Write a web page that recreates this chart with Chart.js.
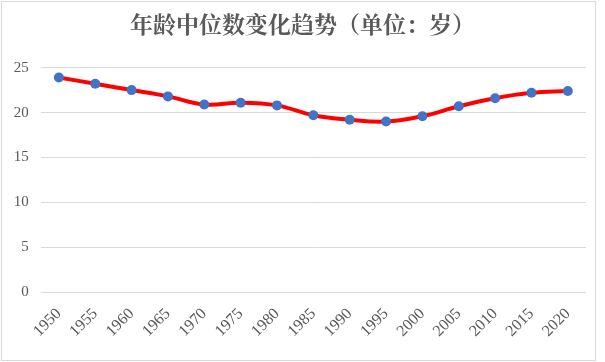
<!DOCTYPE html>
<html lang="zh">
<head>
    <meta charset="UTF-8">
    <title>年龄中位数变化趋势</title>
    <script src="https://cdn.jsdelivr.net/npm/chart.js"></script>
    <style>
        body {
            margin: 0;
            background: white;
        }
        #chart {
            display: block;
        }
    </style>
</head>
<body>
    <canvas id="chart" width="605" height="362"></canvas>
    <script>
        // data
        const years = ['1950', '1955', '1960', '1965', '1970', '1975', '1980', '1985',
                       '1990', '1995', '2000', '2005', '2010', '2015', '2020'];
        const medianAge = [23.9, 23.2, 22.5, 21.8, 20.9, 21.1, 20.8, 19.7,
                           19.2, 19.0, 19.6, 20.7, 21.6, 22.2, 22.4];
        const yTicks = [0, 5, 10, 15, 20, 25];

        const textColor = '#595959';
        const gridColor = '#d9d9d9';

        Chart.defaults.font.family = 'Liberation Serif';
        Chart.defaults.font.size = 15;
        Chart.defaults.color = textColor;

        // white background + thin frame round the whole chart
        const frame = {
            id: 'frame',
            beforeDraw(chart) {
                const ctx = chart.ctx;
                ctx.save();
                ctx.fillStyle = 'white';
                ctx.fillRect(0, 0, chart.width, chart.height);
                ctx.restore();
            },
            afterDraw(chart) {
                const ctx = chart.ctx;
                ctx.save();
                ctx.strokeStyle = gridColor;
                ctx.lineWidth = 1;
                ctx.strokeRect(1.5, 1.5, 594, 359);
                ctx.restore();
            }
        };

        new Chart(document.getElementById('chart'), {
            type: 'line',
            data: {
                labels: years,
                datasets: [{
                    data: medianAge,
                    borderColor: '#ff0000',
                    borderWidth: 4,
                    tension: 0.4,
                    pointRadius: 5,
                    pointBorderWidth: 0,
                    pointBackgroundColor: '#4472c4',
                    pointBorderColor: '#4472c4'
                }]
            },
            options: {
                responsive: false,
                animation: false,
                layout: {
                    padding: 0
                },
                plugins: {
                    legend: { display: false },
                    tooltip: { enabled: false },
                    title: {
                        display: true,
                        text: '年龄中位数变化趋势（单位：岁）',
                        color: textColor,
                        font: { family: 'Noto Serif CJK SC', size: 23, weight: 'bold' },
                        padding: { top: 10, bottom: 30 }
                    }
                },
                scales: {
                    x: {
                        offset: true,
                        grid: { display: false, drawTicks: false },
                        border: { display: false },
                        ticks: {
                            minRotation: 45,
                            maxRotation: 45,
                            autoSkip: false,
                            padding: 12,
                            color: textColor,
                            font: { family: 'Liberation Serif', size: 16 }
                        },
                        afterFit(scale) { scale.height = 69.5; }
                    },
                    y: {
                        min: 0,
                        max: 25,
                        afterBuildTicks(scale) {
                            scale.ticks = yTicks.map(v => ({ value: v }));
                        },
                        grid: { color: gridColor, drawTicks: false },
                        border: { display: false },
                        ticks: {
                            padding: 12,
                            color: textColor,
                            font: { family: 'Liberation Serif', size: 15 }
                        },
                        afterFit(scale) { scale.width = 40.7; }
                    },
                    // empty right-hand strip so the plot ends short of the frame
                    yRight: {
                        position: 'right',
                        grid: { display: false, drawTicks: false },
                        border: { display: false },
                        ticks: { display: false },
                        afterFit(scale) { scale.width = 19; }
                    }
                }
            },
            plugins: [frame]
        });
    </script>
</body>
</html>
